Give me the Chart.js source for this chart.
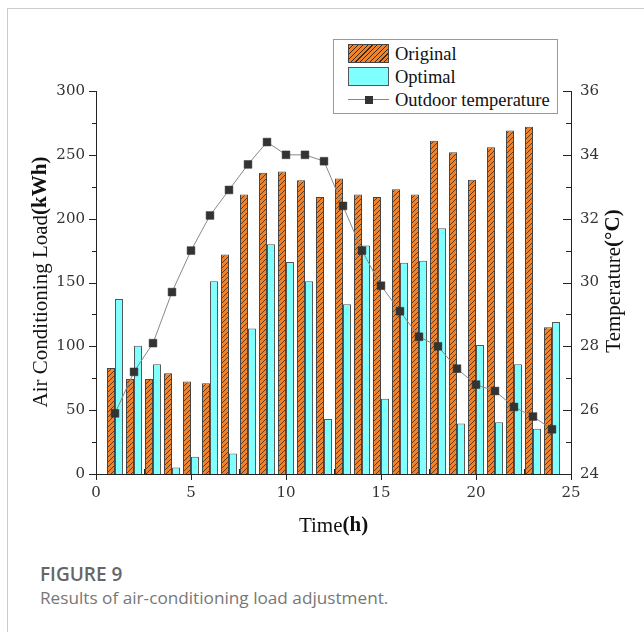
<!DOCTYPE html>
<html>
<head>
<meta charset="utf-8">
<script src="https://cdn.jsdelivr.net/npm/chart.js@4"></script>
<style>
  html, body { margin: 0; padding: 0; background: #fff; }
  #page { position: relative; width: 644px; height: 632px; overflow: hidden; }
  #frame { position: absolute; left: 7px; top: 8px; width: 660px; height: 640px;
           border-left: 1.5px solid #ccc; border-top: 1.5px solid #ccc; }
  #wrap { position: absolute; left: 0; top: 0; width: 644px; height: 545px; }
  #legend { position: absolute; left: 333px; top: 39px; width: 223px; height: 73px;
            border: 1px solid #999; background: #fff;
            font-family: "Liberation Serif", serif; font-size: 18.5px; color: #111; }
  .row { position: absolute; left: 0; height: 22px; line-height: 22px; }
  .row span { position: absolute; left: 61px; white-space: nowrap; }
  .sw { position: absolute; left: 14px; width: 41px; height: 19px; box-sizing: border-box; }
  #cap1 { position: absolute; left: 40px; top: 561px; font-family: "Open Sans", sans-serif;
          font-weight: 600; font-size: 19px; color: #666; }
  #cap2 { position: absolute; left: 40px; top: 586px; font-family: "Open Sans", sans-serif;
          font-size: 17.2px; color: #777; white-space: nowrap; }
</style>
</head>
<body>
<div id="page">
  <div id="frame"></div>
  <div id="wrap"><canvas id="loadChart"></canvas></div>
  <div id="legend">
    <div class="row" style="top:3px">
      <div class="sw" style="top:1px;border:1px solid #444;background:repeating-linear-gradient(135deg,#f0832a 0,#f0832a 2.6px,#3a2a1a 2.6px,#3a2a1a 3.4px)"></div>
      <span>Original</span></div>
    <div class="row" style="top:26px">
      <div class="sw" style="top:1px;border:1px solid #555;background:#80ffff"></div>
      <span>Optimal</span></div>
    <div class="row" style="top:49px">
      <div class="sw" style="top:10px;height:1px;background:#888"></div>
      <div class="sw" style="left:31px;top:7px;width:8px;height:8px;background:#333"></div>
      <span>Outdoor temperature</span></div>
  </div>
  <div id="cap1">FIGURE 9</div>
  <div id="cap2">Results of air-conditioning load adjustment.</div>
</div>
<script>
const hours = [1, 2, 3, 4, 5, 6, 7, 8, 9, 10, 11, 12, 13, 14, 15, 16, 17, 18, 19, 20, 21, 22, 23, 24];
const original = [83, 74.5, 74.5, 79, 72.5, 71, 172, 219, 236, 237, 230, 217, 231.5, 219, 217, 223, 219, 261, 252, 230.5, 256, 269, 272, 115];
const optimal = [137, 100.5, 86, 5, 13.5, 151, 16, 114, 180, 166, 151, 43, 133, 179, 59, 165.5, 167, 192.5, 39.5, 101, 40.5, 86, 35.5, 119];
const temperature = [25.9, 27.2, 28.1, 29.7, 31.0, 32.1, 32.9, 33.7, 34.4, 34.0, 34.0, 33.8, 32.4, 31.0, 29.9, 29.1, 28.3, 28.0, 27.3, 26.8, 26.6, 26.1, 25.8, 25.4];

// hatched orange fill
function makeHatch() {
    const c = document.createElement("canvas");
    c.width = 5; c.height = 5;
    const g = c.getContext("2d");
    g.fillStyle = "#f0832a";
    g.fillRect(0, 0, 5, 5);
    g.strokeStyle = "#3a2a1a";
    g.lineWidth = 0.8;
    g.beginPath();
    g.moveTo(0, 5); g.lineTo(5, 0);
    g.moveTo(-1, 1); g.lineTo(1, -1);
    g.moveTo(4, 6); g.lineTo(6, 4);
    g.stroke();
    return g.createPattern(c, "repeat");
}

const tickFont = { family: "DejaVu Serif", size: 15 };

// ticks (major + minor) and mixed-font axis titles
const axisDecor = {
    id: "axisDecor",
    afterDraw(chart) {
        const ctx = chart.ctx;
        const a = chart.chartArea;
        const x = chart.scales.x, y = chart.scales.y, y1 = chart.scales.y1;
        ctx.save();
        ctx.strokeStyle = "#222";
        ctx.lineWidth = 1;
        ctx.beginPath();
        for (let v = 0; v <= 25; v += 2.5) {
            const px = Math.round(x.getPixelForValue(v)) + 0.5;
            if (v % 5 === 0) { ctx.moveTo(px, a.bottom); ctx.lineTo(px, a.bottom + 6); }
            else { ctx.moveTo(px, a.bottom); ctx.lineTo(px, a.bottom - 5); }
        }
        for (let v = 0; v <= 300; v += 25) {
            const py = Math.round(y.getPixelForValue(v)) + 0.5;
            ctx.moveTo(a.left, py); ctx.lineTo(a.left - (v % 50 === 0 ? 7 : 4), py);
        }
        for (let v = 24; v <= 36; v += 1) {
            const py = Math.round(y1.getPixelForValue(v)) + 0.5;
            ctx.moveTo(a.right, py); ctx.lineTo(a.right - (v % 2 === 0 ? 8 : 5), py);
        }
        ctx.stroke();

        function mixed(parts, cx, cy, rot) {
            ctx.save();
            ctx.translate(cx, cy);
            ctx.rotate(rot);
            ctx.fillStyle = "#111";
            ctx.textBaseline = "middle";
            let total = 0;
            parts.forEach(p => { ctx.font = p[1]; total += ctx.measureText(p[0]).width; });
            let pos = -total / 2;
            parts.forEach(p => {
                ctx.font = p[1];
                ctx.fillText(p[0], pos, 0);
                pos += ctx.measureText(p[0]).width;
            });
            ctx.restore();
        }
        const reg = "21px 'Liberation Serif'", bold = "bold 21px 'Liberation Serif'";
        mixed([["Time", reg], ["(h)", bold]], (a.left + a.right) / 2, 526, 0);
        mixed([["Air Conditioning Load", reg], ["(kWh)", bold]], 41, 282, -Math.PI / 2);
        mixed([["Temperature", reg], ["(°C)", bold]], 614, 281, -Math.PI / 2);
        ctx.restore();
    }
};

const ctx = document.getElementById("loadChart").getContext("2d");

new Chart(ctx, {
    type: "bar",
    data: {
        datasets: [{
            label: "Original",
            data: hours.map((h, i) => ({ x: h, y: original[i] })),
            backgroundColor: makeHatch(),
            borderColor: "#444",
            borderWidth: 1,
            categoryPercentage: 0.84,
            barPercentage: 1,
            order: 1
        }, {
            label: "Optimal",
            data: hours.map((h, i) => ({ x: h, y: optimal[i] })),
            backgroundColor: "#80ffff",
            borderColor: "#555",
            borderWidth: 1,
            categoryPercentage: 0.84,
            barPercentage: 1,
            order: 1
        }, {
            type: "line",
            label: "Outdoor temperature",
            data: hours.map((h, i) => ({ x: h, y: temperature[i] })),
            yAxisID: "y1",
            borderColor: "#888",
            borderWidth: 1,
            pointStyle: "rect",
            pointRadius: 5.5,
            pointBackgroundColor: "#333",
            pointBorderColor: "#333",
            pointBorderWidth: 0.5,
            tension: 0,
            fill: false,
            order: 0
        }]
    },
    options: {
        responsive: true,
        maintainAspectRatio: false,
        animation: false,
        layout: { padding: { top: 91, left: 0, right: 0, bottom: 0 } },
        plugins: { legend: { display: false }, tooltip: { enabled: false } },
        scales: {
            x: {
                type: "linear", min: 0, max: 25, offset: false,
                grid: { display: false, drawTicks: false },
                border: { display: true, color: "#222", width: 1 },
                ticks: { stepSize: 5, padding: 10, color: "#333", font: tickFont },
                afterFit: s => { s.height = 71; }
            },
            y: {
                min: 0, max: 300, position: "left",
                grid: { display: false, drawTicks: false },
                border: { display: true, color: "#222", width: 1 },
                ticks: { stepSize: 50, padding: 11, color: "#333", font: tickFont },
                afterFit: s => { s.width = 96; }
            },
            y1: {
                min: 24, max: 36, position: "right",
                grid: { display: false, drawTicks: false },
                border: { display: true, color: "#222", width: 1 },
                ticks: { stepSize: 2, padding: 9, color: "#333", font: tickFont },
                afterFit: s => { s.width = 73; }
            }
        }
    },
    plugins: [axisDecor]
});
</script>
</body>
</html>
